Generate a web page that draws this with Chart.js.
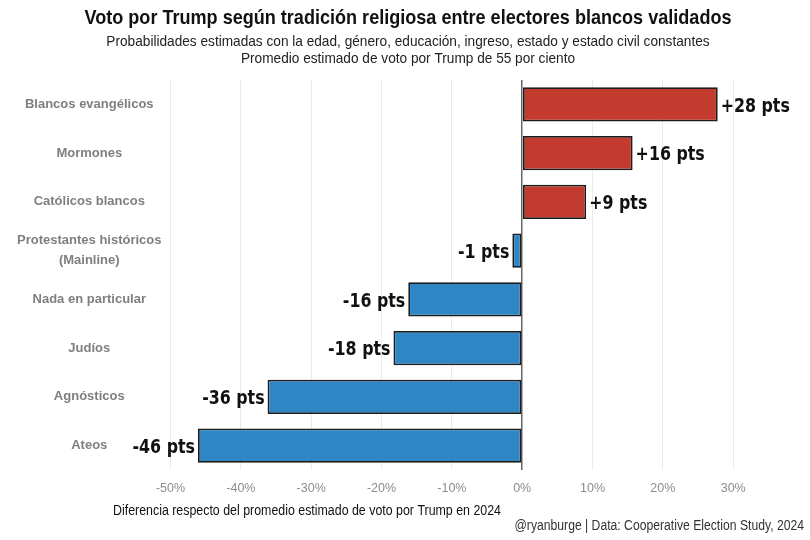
<!DOCTYPE html>
<html>
<head>
<meta charset="utf-8">
<script src="https://cdn.jsdelivr.net/npm/chart.js@4.4.1/dist/chart.umd.min.js"></script>
<style>
  html, body { margin: 0; padding: 0; background: #fff; }
  #wrap { width: 810px; height: 540px; position: relative; }
</style>
</head>
<body>
<div id="wrap"><canvas id="chart"></canvas></div>
<script>
// Data
const categories = [
    'Blancos evangélicos',
    'Mormones',
    'Católicos blancos',
    ['Protestantes históricos', '(Mainline)'],
    'Nada en particular',
    'Judíos',
    'Agnósticos',
    'Ateos'
];
const values = [27.8, 15.7, 9.1, -1.4, -16.2, -18.3, -36.2, -46.1];
const valueLabels = ['+28 pts', '+16 pts', '+9 pts', '-1 pts', '-16 pts', '-18 pts', '-36 pts', '-46 pts'];
const xTicks = [-50, -40, -30, -20, -10, 0, 10, 20, 30];

const titleText = 'Voto por Trump según tradición religiosa entre electores blancos validados';
const subtitleLines = [
    'Probabilidades estimadas con la edad, género, educación, ingreso, estado y estado civil constantes',
    'Promedio estimado de voto por Trump de 55 por ciento'
];
const axisTitle = 'Diferencia respecto del promedio estimado de voto por Trump en 2024';
const captionText = '@ryanburge | Data: Cooperative Election Study, 2024';

const SANS = '"Liberation Sans", Arial, sans-serif';

// no narrow font installed, so squeeze the text horizontally
function narrowText(ctx, text, x, y, sx, align) {
    ctx.save();
    ctx.translate(x, y);
    ctx.scale(sx, 1);
    ctx.textAlign = align;
    ctx.fillText(text, 0, 0);
    ctx.restore();
}

// Titles, axis caption and source line
const textPlugin = {
    id: 'texts',
    afterDraw(chart) {
        const ctx = chart.ctx;
        ctx.save();
        ctx.textBaseline = 'middle';
        ctx.fillStyle = '#111';
        ctx.font = 'bold 21px ' + SANS;
        narrowText(ctx, titleText, 408, 18, 0.86, 'center');
        ctx.font = '15px ' + SANS;
        ctx.fillStyle = '#222';
        narrowText(ctx, subtitleLines[0], 408, 42, 0.91, 'center');
        narrowText(ctx, subtitleLines[1], 408, 59, 0.91, 'center');

        ctx.font = '14px ' + SANS;
        ctx.fillStyle = '#111';
        narrowText(ctx, axisTitle, 113, 511, 0.885, 'left');

        ctx.fillStyle = '#333';
        narrowText(ctx, captionText, 804, 526, 0.87, 'right');
        ctx.restore();
    }
};

// "+28 pts" style labels at the end of each bar
const barLabelPlugin = {
    id: 'barLabels',
    afterDatasetsDraw(chart) {
        const ctx = chart.ctx;
        const meta = chart.getDatasetMeta(0);
        ctx.save();
        ctx.font = 'bold 20px "DejaVu Sans Condensed", "DejaVu Sans", sans-serif';
        ctx.fillStyle = '#111';
        ctx.textBaseline = 'middle';
        meta.data.forEach((bar, i) => {
            if (values[i] >= 0) {
                narrowText(ctx, valueLabels[i], bar.x + 3, bar.y + 2, 0.88, 'left');
            } else {
                narrowText(ctx, valueLabels[i], bar.x - 3, bar.y + 2, 0.88, 'right');
            }
        });
        ctx.restore();
    }
};

const ctx = document.getElementById('chart').getContext('2d');
new Chart(ctx, {
    type: 'bar',
    data: {
        labels: categories,
        datasets: [{
            data: values,
            backgroundColor: values.map(v => v >= 0 ? '#C23B2E' : '#2E86C4'),
            borderColor: '#1c1c1c',
            borderWidth: 1.8,
            borderSkipped: false,
            categoryPercentage: 1,
            barPercentage: 0.7
        }]
    },
    options: {
        indexAxis: 'y',
        responsive: true,
        maintainAspectRatio: false,
        animation: false,
        layout: { padding: { top: 80, right: 10, bottom: 0, left: 0 } },
        plugins: {
            legend: { display: false },
            tooltip: { enabled: false },
            title: { display: false }
        },
        scales: {
            x: {
                min: -51,
                max: 39.5,
                afterBuildTicks: scale => { scale.ticks = xTicks.map(v => ({ value: v })); },
                afterFit: scale => { scale.height = 70; },
                border: { display: false },
                grid: {
                    drawTicks: false,
                    color: c => c.tick && c.tick.value === 0 ? '#666' : '#ebebeb',
                    lineWidth: c => c.tick && c.tick.value === 0 ? 1.5 : 1
                },
                ticks: {
                    padding: 11,
                    color: '#8c8c8c',
                    font: { family: SANS, size: 12.5 },
                    callback: v => v + '%'
                }
            },
            y: {
                afterFit: scale => { scale.width = 163.5; },
                border: { display: false },
                grid: { display: false, drawTicks: false },
                ticks: {
                    crossAlign: 'center',
                    padding: 2,
                    color: '#7f7f7f',
                    font: { family: SANS, size: 13, weight: 'bold', lineHeight: 1.55 }
                }
            }
        }
    },
    plugins: [textPlugin, barLabelPlugin]
});
</script>
</body>
</html>
